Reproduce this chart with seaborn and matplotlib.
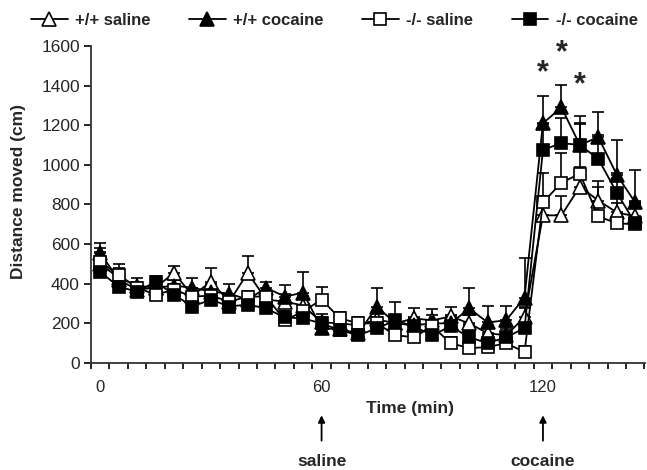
import matplotlib
matplotlib.use('Agg')
import matplotlib.pyplot as plt
import seaborn as sns
import numpy as np

# Time points (min)
time = list(range(0, 150, 5))

# Mean distance moved (cm)
wt_saline = [500, 430, 390, 380, 455, 340, 410, 310, 455, 320,
             310, 290, 205, 200, 190, 220, 200, 225, 215, 235,
             200, 150, 140, 230, 745, 745, 890, 820, 760, 740]
wt_cocaine = [555, 420, 370, 380, 390, 380, 360, 350, 320, 380,
              335, 355, 175, 170, 150, 285, 200, 190, 200, 200,
              275, 205, 215, 330, 1210, 1290, 1100, 1140, 950, 810]
ko_saline = [510, 445, 380, 345, 370, 335, 340, 310, 335, 335,
             215, 260, 320, 225, 200, 200, 140, 130, 185, 100,
             75, 80, 100, 55, 810, 910, 955, 740, 705, 700]
ko_cocaine = [460, 385, 360, 410, 345, 285, 320, 285, 295, 275,
              230, 225, 200, 165, 140, 175, 215, 185, 140, 185,
              130, 100, 130, 175, 1075, 1110, 1100, 1030, 860, 705]

# Upper error bars (SEM)
wt_saline_err = [80, 50, 40, 30, 35, 40, 70, 40, 85, 40,
                 40, 50, 40, 30, 30, 40, 40, 50, 55, 50,
                 40, 40, 40, 50, 100, 100, 100, 100, 100, 80]
wt_cocaine_err = [50, 40, 30, 30, 30, 50, 40, 50, 40, 30,
                  60, 105, 30, 30, 30, 95, 40, 40, 40, 40,
                  105, 85, 75, 200, 135, 115, 110, 125, 175, 165]
ko_saline_err = [50, 55, 30, 30, 30, 30, 30, 30, 30, 30,
                 30, 30, 65, 30, 30, 30, 30, 30, 30, 30,
                 30, 30, 30, 30, 150, 150, 250, 150, 100, 100]
ko_cocaine_err = [40, 40, 30, 30, 30, 30, 30, 30, 30, 30,
                  30, 30, 30, 30, 30, 30, 95, 40, 40, 40,
                  60, 40, 40, 110, 130, 125, 145, 120, 100, 100]

# Significance stars
star_t = [120, 125, 130]
star_y = [1460, 1565, 1400]

# Injection markers
inj_t = [60, 120]
inj_l = ['saline', 'cocaine']

y_ticks = list(range(0, 1601, 200))
x_labels = [0, 60, 120]

sns.set_style('ticks')
plt.rcParams['font.family'] = ['Liberation Sans', 'DejaVu Sans']

fig = plt.figure(figsize=(6.47, 4.70), dpi=100)
ax = fig.add_axes([0.1406, 0.2277, 0.856, 0.6745])

# series: (label, values, errors, marker, face colour)
series = [
    ('+/+ saline', wt_saline, wt_saline_err, '^', 'white'),
    ('+/+ cocaine', wt_cocaine, wt_cocaine_err, '^', 'black'),
    ('-/- saline', ko_saline, ko_saline_err, 's', 'white'),
    ('-/- cocaine', ko_cocaine, ko_cocaine_err, 's', 'black'),
]
draw_order = [1, 3, 0, 2]

for i in draw_order:
    lab, vals, err, mk, fc = series[i]
    ax.errorbar(time, vals, yerr=[np.zeros(len(err)), err], fmt='none',
                ecolor='black', elinewidth=1.2, capsize=4.5, capthick=1.2,
                zorder=2 + i * 0.1)
    sns.lineplot(x=time, y=vals, ax=ax, color='black', marker=mk,
                 markersize=8.5 if mk == 's' else 9.5,
                 markerfacecolor=fc, markeredgecolor='black',
                 markeredgewidth=1.2, linewidth=1.3, errorbar=None,
                 label=lab, zorder=3 + i * 0.1)

h, l = ax.get_legend_handles_labels()
lookup = dict(zip(l, h))
ax.get_legend().remove()
fig.legend([lookup[s[0]] for s in series], [s[0] for s in series],
           loc='upper center', bbox_to_anchor=(0.517, 1.005), ncol=4,
           frameon=False, handlelength=2.2, handletextpad=0.45,
           columnspacing=2.3, prop={'weight': 'bold', 'size': 12})

# Stars
for t, y in zip(star_t, star_y):
    ax.text(t, y, '*', ha='center', va='center', fontsize=22,
            fontweight='bold')

# Axes limits and ticks
ax.set_xlim(-2.5, 147.6)
ax.set_ylim(0, 1600)
ax.set_yticks(y_ticks)
ax.set_xticks(x_labels)
ax.set_xticks(np.arange(-2.5, 148, 5), minor=True)
ax.tick_params(axis='x', which='major', length=0, pad=12, labelsize=12)
ax.tick_params(axis='x', which='minor', length=4.5, width=1.2,
               direction='out', color='black')
ax.tick_params(axis='y', length=5, width=1.2, direction='out',
               labelsize=12.5, color='black', pad=3)

sns.despine(ax=ax)
for sp in ['left', 'bottom']:
    ax.spines[sp].set_linewidth(1.3)
    ax.spines[sp].set_color('#333333')

ax.set_ylabel('Distance moved (cm)', fontsize=12.5, fontweight='bold')
ax.yaxis.set_label_coords(-0.118, 0.54)
ax.set_xlabel('Time (min)', fontsize=12.5, fontweight='bold')
ax.xaxis.set_label_coords(0.576, -0.12)

# Injection arrows
for t, lab in zip(inj_t, inj_l):
    ax.annotate('', xy=(t, -0.165), xytext=(t, -0.245),
                xycoords=('data', 'axes fraction'),
                textcoords=('data', 'axes fraction'),
                arrowprops=dict(arrowstyle='-|>', color='black', lw=1.3,
                                mutation_scale=10, shrinkA=0, shrinkB=0),
                annotation_clip=False)
    ax.text(t, -0.31, lab, transform=ax.get_xaxis_transform(),
            ha='center', va='center', fontsize=12.5, fontweight='bold')

fig.savefig('out.png', dpi=100)
